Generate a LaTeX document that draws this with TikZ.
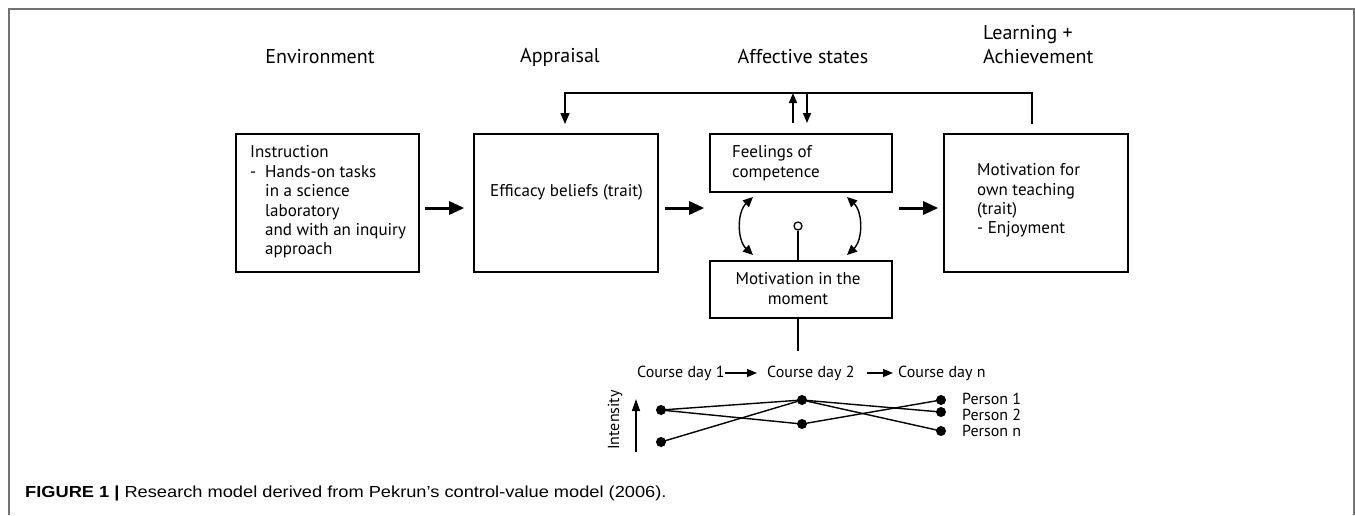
\documentclass[tikz,border=0pt]{standalone}
\usepackage{fontspec}
\setmainfont{PT Sans}
\newfontfamily\capfont[FakeStretch=1.14]{Liberation Sans}
\usetikzlibrary{arrows.meta,calc}
\tikzset{
  box/.style={draw=black,line width=1.6pt,rectangle,inner sep=0pt},
  txt/.style={inner sep=0pt,align=left,font=\fontsize{17}{19.4}\selectfont},
  head/.style={inner sep=0pt,font=\fontsize{20}{24}\selectfont,align=left},
  small/.style={inner sep=0pt,font=\fontsize{16}{19}\selectfont},
  bigarrow/.style={line width=3pt,-{Triangle[length=15pt,width=13pt]}},
  fbarrow/.style={line width=1.4pt,-{Triangle[length=11pt,width=9pt]}},
  smallarrow/.style={line width=1.4pt,-{Triangle[length=10pt,width=8pt]}},
  dblarrow/.style={line width=1.4pt,{Triangle[length=10pt,width=9pt]}-{Triangle[length=10pt,width=9pt]}},
  dot/.style={circle,fill=black,inner sep=0pt,minimum size=10pt},
  frame/.style={draw=black!55,line width=2pt}
}
\begin{document}
\begin{tikzpicture}[x=1pt,y=-1pt]
\useasboundingbox (0,0) rectangle (1355,515);
\draw[frame] (9,515) -- (9,9) -- (1354,9) -- (1354,515);

% headers
\node[head] (hEnv) at (320,57) {Environment};
\node[head] (hApp) at (560,57) {Appraisal};
\node[head] (hAff) at (803,57) {Affective states};
\node[head,anchor=west] (hLearn) at (983,45) {Learning +\\Achievement};

% boxes
\node[box,minimum width=183pt,minimum height=138pt] (instr) at (327.5,203) {};
\node[box,minimum width=184pt,minimum height=138pt] (eff) at (566,203) {};
\node[box,minimum width=182pt,minimum height=58pt] (feel) at (801,163) {};
\node[box,minimum width=182pt,minimum height=57pt] (mom) at (801,289.5) {};
\node[box,minimum width=184pt,minimum height=138pt] (mott) at (1036,203) {};

% box texts
\node[txt,anchor=west] (tInstr) at (250,202) {Instruction\\
\makebox[15pt][l]{-}Hands-on tasks\\
\hspace*{15pt}in a science\\
\hspace*{15pt}laboratory\\
\hspace*{15pt}and with an inquiry\\
\hspace*{15pt}approach};
\node[txt,anchor=west] (tEff) at (490,192) {Efficacy beliefs (trait)};
\node[txt,anchor=west] (tFeel) at (732,163) {Feelings of\\competence};
\node[txt,align=center] (tMom) at (798,288.5) {Motivation in the\\moment};
\node[txt,anchor=west] (tMott) at (977,200.5) {Motivation for\\own teaching\\(trait)\\- Enjoyment};

% main arrows
\draw[bigarrow] ($(instr.east)+(5,5)$) -- ($(eff.west)+(-9,5)$);
\draw[bigarrow] ($(eff.east)+(6,5)$) -- ($(feel.west |- eff.west)+(-5,5)$);
\draw[bigarrow] ($(feel.east |- eff.east)+(6,5)$) -- ($(mott.west)+(-5,5)$);

% feedback loop
\coordinate (fbR) at (1032,124);
\coordinate (fbL) at (565,124);
\coordinate (fbTop) at (565,93);
\draw[fbarrow] (fbR) |- (fbTop) -- (fbL);
\coordinate (upB) at (793,123);
\coordinate (upT) at (793,93);
\coordinate (dnT) at (807,93);
\coordinate (dnB) at (807,123);
\draw[smallarrow] (upB) -- (upT);
\draw[smallarrow] (dnT) -- (dnB);

% curved double arrows
\coordinate (cl1) at (753,197);
\coordinate (cl2) at (753,255);
\coordinate (cr1) at (847,197);
\coordinate (cr2) at (847,255);
\draw[dblarrow] (cl1) .. controls (737,212) and (737,240) .. (cl2);
\draw[dblarrow] (cr1) .. controls (863,212) and (863,240) .. (cr2);

% open circle connector
\node[circle,draw=black,fill=white,inner sep=0pt,minimum size=8pt,line width=1.3pt] (oc) at (798,226) {};
\draw[line width=1.4pt] (oc.south) -- (oc.south |- mom.north);
\coordinate (stemEnd) at (798,351);
\draw[line width=1.4pt] (stemEnd |- mom.south) -- (stemEnd);

% course days
\node[small,anchor=west] (cd1) at (637,373) {Course day 1};
\node[small,anchor=west] (cd2) at (767,373) {Course day 2};
\node[small,anchor=west] (cdn) at (898,373) {Course day n};
\draw[smallarrow] (cd1.east) -- ($(cd2.west)+(-10,0)$);
\draw[smallarrow] ($(cd2.east)+(12,0)$) -- ($(cdn.west)+(-5,0)$);

% intensity
\coordinate (intB) at (636,452);
\coordinate (intT) at (636,399);
\draw[line width=1.4pt,-{Triangle[length=12pt,width=8pt]}] (intB) -- (intT);
\node[small,rotate=90] (intensity) at (615,420) {Intensity};

% dots
\node[dot] (a1) at (661,410) {};
\node[dot] (a2) at (661,442) {};
\node[dot] (b1) at (802,400) {};
\node[dot] (b2) at (802,424) {};
\node[dot] (c1) at (941,400) {};
\node[dot] (c2) at (941,412) {};
\node[dot] (c3) at (941,431) {};
\draw[line width=1.4pt] (a1.center) -- (b1.center);
\draw[line width=1.4pt] (a1.center) -- (b2.center);
\draw[line width=1.4pt] (a2.center) -- (b1.center);
\draw[line width=1.4pt] (b1.center) -- (c2.center);
\draw[line width=1.4pt] (b1.center) -- (c3.center);
\draw[line width=1.4pt] (b2.center) -- (c1.center);

\node[small,anchor=west] (p1) at (962,399) {Person 1};
\node[small,anchor=west] (p2) at (962,415) {Person 2};
\node[small,anchor=west] (pn) at (962,431) {Person n};

% caption
\node[inner sep=0pt,anchor=base west] (cap) at (25,497) {\capfont\fontsize{16}{18}\selectfont\textbf{FIGURE 1 |} Research model derived from Pekrun’s control-value model (2006).};
\end{tikzpicture}
\end{document}
